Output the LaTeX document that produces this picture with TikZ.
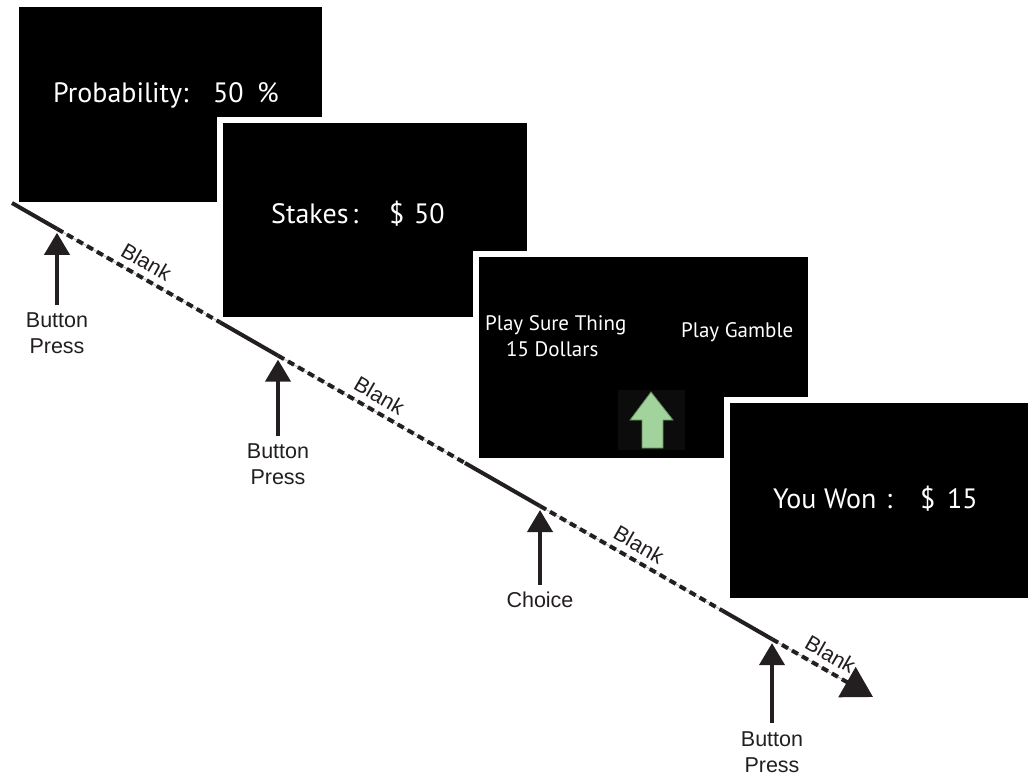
\documentclass[tikz,border=0pt]{standalone}
\usepackage{fontspec}
\setmainfont{PT Sans}
\newfontfamily\labelfont{Liberation Sans}
\usetikzlibrary{arrows.meta,calc}
\definecolor{ink}{HTML}{231F20}
\definecolor{guidegray}{HTML}{B8B8B8}
\definecolor{arrowgreen}{HTML}{A3D39C}
\definecolor{arrowedge}{HTML}{5E8C55}
\definecolor{arrowbg}{HTML}{0C0C0C}
\begin{document}
\begin{tikzpicture}[x=1pt,y=-1pt,
  screen/.style={preaction={draw=white,line width=12pt}, fill=black},
  bigtext/.style={anchor=base west, inner sep=0pt, text=white, font=\fontsize{28}{32}\selectfont},
  choicetext/.style={anchor=base west, inner sep=0pt, text=white, font=\fontsize{21}{26}\selectfont},
  evlabel/.style={anchor=north, inner sep=0pt, align=center, text=ink, font=\labelfont\fontsize{21.5}{26}\selectfont},
  solidseg/.style={draw=ink, line width=4pt},
  guideline/.style={draw=guidegray, line width=0.8pt},
  dashseg/.style={draw=ink, line width=4pt, dash pattern=on 7pt off 4.5pt},
  blanklabel/.style={midway, sloped, above=5pt, inner sep=1pt, text=ink, font=\labelfont\fontsize{21.5}{24}\selectfont},
  vert/.style={draw=ink, line width=4pt, -{Triangle[length=22pt,width=25pt]}},
  endtip/.style={-{Triangle[length=30pt,width=34pt]}}
]
\useasboundingbox (0,0) rectangle (1028,779);
\fill[white] (0,0) rectangle (1028,779);

% screens
\path[screen] (19,7) rectangle (322,202);
\node[bigtext] (t1a) at (53,102) {Probability:};
\node[bigtext] (t1b) at (213,102) {50};
\node[bigtext] (t1c) at (257,102) {\%};

\path[screen] (223,123) rectangle (527,317);
\node[bigtext] (t2a) at (271,223) {Stakes};
\node[bigtext] (t2b) at (352,223) {:};
\node[bigtext] (t2c) at (389,223) {\$};
\node[bigtext] (t2d) at (414,223) {50};

\path[screen] (479,257) rectangle (808,458);
\node[choicetext] (t3a) at (485,330) {Play Sure Thing};
\node[choicetext] (t3b) at (506,356) {15 Dollars};
\node[choicetext] (t3c) at (681,337) {Play Gamble};
\fill[arrowbg] (618,390) rectangle (685,450);
\filldraw[fill=arrowgreen, draw=arrowedge, line width=0.8pt]
  (651,392) -- (673,420) -- (663,420) -- (663,448) -- (642,448) -- (642,420) -- (630,420) -- cycle;

\path[screen] (730,403) rectangle (1034,598);
\node[bigtext] (t4a) at (773,508) {You Won};
\node[bigtext] (t4b) at (886,508) {:};
\node[bigtext] (t4c) at (920,508) {\$};
\node[bigtext] (t4d) at (947,508) {15};

% timeline
\coordinate (p0) at (12,203);
\coordinate (b1) at (57,228.8);
\coordinate (s2) at (220,322.3);
\coordinate (b2) at (278,355.6);
\coordinate (s3) at (465,463);
\coordinate (c3) at (540,506);
\coordinate (s4) at (722,610.4);
\coordinate (b4) at (772,639.1);
\coordinate (tip) at (873,697);

\draw[solidseg] (p0) -- (b1);
\draw[solidseg] (s2) -- (b2);
\draw[solidseg] (s3) -- (c3);
\draw[solidseg] (s4) -- (b4);

\draw[guideline] (b1) -- (s2);
\draw[dashseg] (b1) -- (s2) node[blanklabel] (k1) {Blank};
\draw[guideline] (b2) -- (s3);
\draw[dashseg] (b2) -- (s3) node[blanklabel] (k2) {Blank};
\draw[guideline] (c3) -- (s4);
\draw[dashseg] (c3) -- (s4) node[blanklabel] (k3) {Blank};
\draw[guideline] (b4) -- ($(b4)!0.8!(tip)$);
\draw[dashseg, endtip] (b4) -- (tip) node[blanklabel] (k4) {Blank};

% event labels and arrows
\node[evlabel] (l1) at (57,313) {Button\\Press};
\node[evlabel] (l2) at (278,444) {Button\\Press};
\node[evlabel] (l3) at (540,592) {Choice};
\node[evlabel] (l4) at (772,731) {Button\\Press};

\draw[vert] ([yshift=8pt]l1.north) -- ([yshift=-4pt]b1);
\draw[vert] ([yshift=8pt]l2.north) -- ([yshift=-4pt]b2);
\draw[vert] ([yshift=7pt]l3.north) -- ([yshift=-4pt]c3);
\draw[vert] ([yshift=8pt]l4.north) -- ([yshift=-4pt]b4);
\end{tikzpicture}
\end{document}
